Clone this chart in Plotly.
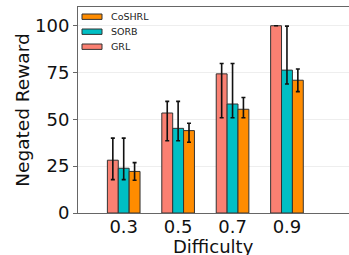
import plotly.graph_objects as go

categories = ["0.3", "0.5", "0.7", "0.9"]
grl = [28.2, 53.4, 74.3, 100.0]
grl_hi = [40.0, 59.6, 79.8, 100.0]
grl_lo = [17.8, 38.6, 50.9, 100.0]
sorb = [23.9, 45.2, 58.2, 76.3]
sorb_hi = [40.0, 59.6, 79.8, 99.8]
sorb_lo = [17.8, 38.6, 50.9, 68.9]
coshrl = [22.2, 44.0, 55.4, 70.9]
coshrl_hi = [26.9, 47.9, 61.7, 76.9]
coshrl_lo = [17.5, 37.8, 50.9, 64.8]

series = [
    ("GRL", grl, grl_hi, grl_lo, "#FA8072", -0.3),
    ("SORB", sorb, sorb_hi, sorb_lo, "#00BFC4", -0.1),
    ("CoSHRL", coshrl, coshrl_hi, coshrl_lo, "#FF8C00", 0.1),
]

W, H = 349, 255
ML, MR, MT, MB = 78, 0, 7, 42
PW, PH = W - ML - MR, H - MT - MB

def px_x(px):
    return (px - ML) / PW

def px_y(py):
    return (H - MB - py) / PH

xpos = list(range(len(categories)))
fig = go.Figure()
for name, vals, hi, lo, color, off in series:
    fig.add_trace(go.Bar(
        x=xpos, y=vals, name=name, width=0.2, offset=off,
        marker=dict(color=color, line=dict(color="#333333", width=1)),
        error_y=dict(type="data", symmetric=False,
                     array=[h - v for h, v in zip(hi, vals)],
                     arrayminus=[v - l for v, l in zip(vals, lo)],
                     color="#111111", thickness=1.6, width=2),
        showlegend=False,
    ))

font = "DejaVu Sans"
# manual legend (CoSHRL, SORB, GRL from top)
shapes, annotations = [], []
for i, (name, vals, hi, lo, color, off) in enumerate(reversed(series)):
    cy = 16.7 + 15 * i
    shapes.append(dict(type="rect", xref="paper", yref="paper",
                       x0=px_x(82), x1=px_x(102), y0=px_y(cy + 2.7), y1=px_y(cy - 2.7),
                       fillcolor=color, line=dict(color="#333333", width=1)))
    annotations.append(dict(xref="paper", yref="paper", x=px_x(109), y=px_y(cy),
                            xanchor="left", yanchor="middle", showarrow=False,
                            text=name, font=dict(family=font, size=9.5, color="#222")))

# x-axis title placed as annotation (plotly clamps axis titles inside the margin)
annotations.append(dict(xref="paper", yref="paper", x=0.5, y=px_y(246.3),
                        xanchor="center", yanchor="middle", showarrow=False,
                        text="Difficulty", font=dict(family=font, size=18, color="#111")))

fig.update_layout(
    width=W, height=H,
    margin=dict(l=ML, r=MR, t=MT, b=MB, autoexpand=False),
    plot_bgcolor="white", paper_bgcolor="white",
    barmode="overlay",
    showlegend=False,
    shapes=shapes, annotations=annotations,
    font=dict(family=font, color="#111"),
)
fig.update_xaxes(
    range=[-0.84, 4.14], tickmode="array", tickvals=xpos, ticktext=categories,
    showline=True, linecolor="#666666", linewidth=1, mirror=True,
    ticks="", showgrid=False, zeroline=False, automargin=False,
    ticklabelstandoff=-3,
    tickfont=dict(family=font, size=18, color="#111"),
)
fig.update_yaxes(
    range=[0, 110], tickvals=[0, 25, 50, 75, 100],
    showline=True, linecolor="#666666", linewidth=1,
    ticks="outside", ticklen=4, tickcolor="#666666",
    showgrid=True, gridcolor="#eeeeee", gridwidth=1, zeroline=False, automargin=False,
    tickfont=dict(family=font, size=18, color="#111"),
    title=dict(text="Negated Reward", font=dict(family=font, size=18.5, color="#111"), standoff=0),
)
fig.write_html("out.html", config={"displayModeBar": False},
               post_script="document.body.style.margin='0';")
